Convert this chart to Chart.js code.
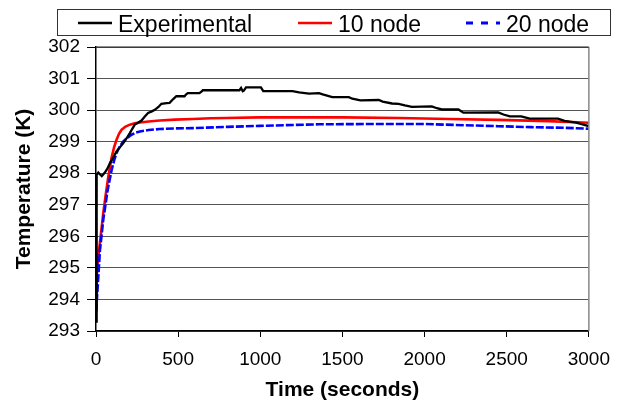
<!DOCTYPE html>
<html><head><meta charset="utf-8">
<script src="https://cdn.jsdelivr.net/npm/chart.js@4/dist/chart.umd.min.js"></script>
<style>
html,body{margin:0;padding:0;background:#fff;}
#wrap{position:relative;width:621px;height:405px;overflow:hidden;}
#c{position:absolute;left:0;top:0;width:621px;height:405px;}
#lbox{position:absolute;left:57px;top:9px;width:552px;height:25px;border:1px solid #333;box-sizing:content-box;}
.lt{position:absolute;top:13px;font-family:"Liberation Sans",Arial,sans-serif;font-size:23px;line-height:23px;color:#000;white-space:nowrap;}
svg.ls{position:absolute;overflow:visible;}
</style></head>
<body><div id="wrap">
<canvas id="c" width="621" height="405"></canvas>
<div id="lbox"></div>
</div>
<script>
// ---- data ----
const seriesNames = ['Experimental', '10 node', '20 node'];

const expTime = [0, 2, 6, 14, 25, 35, 45, 55, 70, 85, 105, 125, 145, 165, 185, 206, 220, 236, 255, 277, 297, 317, 340, 358, 380, 398, 430, 448, 470, 489, 539, 549, 559, 630, 645, 650, 873, 883, 893, 900, 913, 1004, 1018, 1196, 1236, 1297, 1357, 1380, 1438, 1539, 1560, 1610, 1721, 1745, 1802, 1842, 1880, 1923, 2044, 2075, 2105, 2206, 2236, 2448, 2480, 2519, 2588, 2640, 2812, 2852, 2923, 2994, 3000];
const expTemp = [293.3, 297.6, 297.95, 298.02, 297.96, 297.91, 297.97, 298.03, 298.15, 298.32, 298.5, 298.69, 298.82, 298.95, 299.1, 299.27, 299.4, 299.54, 299.6, 299.67, 299.8, 299.91, 299.96, 300.01, 300.1, 300.2, 300.22, 300.23, 300.35, 300.44, 300.44, 300.5, 300.54, 300.54, 300.6, 300.63, 300.63, 300.7, 300.6, 300.62, 300.72, 300.72, 300.6, 300.6, 300.56, 300.52, 300.54, 300.5, 300.41, 300.41, 300.36, 300.31, 300.32, 300.27, 300.21, 300.2, 300.15, 300.1, 300.12, 300.06, 300.02, 300.02, 299.92, 299.93, 299.86, 299.8, 299.8, 299.73, 299.73, 299.66, 299.6, 299.5, 299.48];

const node10Time = [0, 4, 14, 28, 44, 60, 75, 95, 110, 125, 140, 156, 180, 206, 235, 267, 320, 388, 480, 590, 700, 792, 994, 1236, 1500, 1842, 2150, 2448, 2750, 3000];
const node10Temp = [293.7, 294.7, 295.35, 295.98, 296.73, 297.35, 297.89, 298.5, 298.82, 299.06, 299.25, 299.38, 299.48, 299.54, 299.58, 299.61, 299.64, 299.67, 299.7, 299.72, 299.74, 299.75, 299.77, 299.77, 299.77, 299.75, 299.72, 299.69, 299.65, 299.6];

const node20Time = [0, 4, 14, 24, 44, 71, 95, 110, 125, 145, 165, 190, 216, 240, 267, 320, 388, 480, 590, 800, 994, 1200, 1357, 1700, 2004, 2246, 2450, 2648, 2850, 3000];
const node20Temp = [293.6, 293.9, 294.71, 295.56, 296.52, 297.47, 298.1, 298.4, 298.64, 298.85, 299.0, 299.12, 299.22, 299.28, 299.32, 299.37, 299.4, 299.42, 299.43, 299.47, 299.5, 299.53, 299.55, 299.56, 299.56, 299.52, 299.49, 299.46, 299.44, 299.41];

const xTickValues = [0, 500, 1000, 1500, 2000, 2500, 3000];
const yTickValues = [293, 294, 295, 296, 297, 298, 299, 300, 301, 302];

// ---- styles ----
const FONT = '"Liberation Sans", Arial, sans-serif';
const colors = ['#000000', '#ff0000', '#0000ff'];
const widths = [2.3, 2.6, 2.6];
const dashes = [[], [], [8, 2]];
const drawOrder = [0, 2, 1];

const toXY = (xs, ys) => xs.map((x, i) => ({x: x, y: ys[i]}));
const seriesData = [toXY(expTime, expTemp), toXY(node10Time, node10Temp), toXY(node20Time, node20Temp)];

const datasets = seriesNames.map((name, i) => ({
  label: name,
  data: seriesData[i],
  borderColor: colors[i],
  backgroundColor: colors[i],
  borderWidth: widths[i],
  borderDash: dashes[i],
  pointRadius: 0,
  tension: 0,
  fill: false,
  order: drawOrder[i],
  showLine: true
}));

const framePlugin = {
  id: 'frame',
  afterDatasetsDraw(chart) {
    const a = chart.chartArea, ctx = chart.ctx;
    ctx.save();
    ctx.strokeStyle = '#888';
    ctx.lineWidth = 1.5;
    ctx.beginPath();
    ctx.moveTo(a.right, a.top);
    ctx.lineTo(a.right, a.bottom);
    ctx.stroke();
    ctx.strokeStyle = '#222';
    ctx.lineWidth = 1.2;
    ctx.beginPath();
    ctx.moveTo(a.left, a.top);
    ctx.lineTo(a.right, a.top);
    ctx.stroke();
    ctx.restore();
  }
};

new Chart(document.getElementById('c'), {
  type: 'scatter',
  data: {datasets: datasets},
  options: {
    responsive: false,
    animation: false,
    events: [],
    layout: {padding: {left: 0, right: 30, top: 47, bottom: 0}},
    plugins: {legend: {display: false}, tooltip: {enabled: false}},
    scales: {
      x: {
        type: 'linear', min: 0, max: 3000,
        afterBuildTicks: s => { s.ticks = xTickValues.map(v => ({value: v})); },
        afterFit: s => { s.height = 74; },
        grid: {drawOnChartArea: false, drawTicks: true, tickLength: 6, color: '#000', lineWidth: 1},
        border: {color: '#000', width: 1.5},
        ticks: {padding: 11, color: '#000', font: {family: FONT, size: 19}, maxRotation: 0, autoSkip: false,
                callback: v => String(v)},
        title: {display: true, text: 'Time (seconds)', color: '#000', font: {family: FONT, size: 21, weight: 'bold'}, padding: {top: 0, bottom: 2}}
      },
      y: {
        type: 'linear', min: 293, max: 302,
        afterBuildTicks: s => { s.ticks = yTickValues.map(v => ({value: v})); },
        afterFit: s => { s.width = 96; },
        grid: {color: '#555', lineWidth: 1, tickColor: '#000', tickLength: 9, drawTicks: true},
        border: {color: '#000', width: 1.5},
        ticks: {padding: 7, color: '#000', font: {family: FONT, size: 19}, autoSkip: false,
                callback: v => String(v)},
        title: {display: true, text: 'Temperature (K)', color: '#000', font: {family: FONT, size: 21, weight: 'bold'}, padding: {top: 12, bottom: 0}}
      }
    }
  },
  plugins: [framePlugin]
});

// ---- legend (built from the series names / styles) ----
const wrap = document.getElementById('wrap');
const legendLeft = [78, 298, 466];
const legendDash = ['', '', '7 8'];
const legendWidth = [2.3, 2.5, 3];
seriesNames.forEach((name, i) => {
  const svgNS = 'http://www.w3.org/2000/svg';
  const svg = document.createElementNS(svgNS, 'svg');
  svg.setAttribute('class', 'ls');
  svg.setAttribute('width', '36');
  svg.setAttribute('height', '6');
  svg.style.left = legendLeft[i] + 'px';
  svg.style.top = '20px';
  const ln = document.createElementNS(svgNS, 'line');
  ln.setAttribute('x1', '0'); ln.setAttribute('x2', '34');
  ln.setAttribute('y1', '3'); ln.setAttribute('y2', '3');
  ln.setAttribute('stroke', colors[i]);
  ln.setAttribute('stroke-width', legendWidth[i]);
  if (legendDash[i]) ln.setAttribute('stroke-dasharray', legendDash[i]);
  svg.appendChild(ln);
  wrap.appendChild(svg);
  const t = document.createElement('div');
  t.className = 'lt';
  t.style.left = (legendLeft[i] + 40) + 'px';
  t.textContent = name;
  wrap.appendChild(t);
});
</script>
</body></html>
